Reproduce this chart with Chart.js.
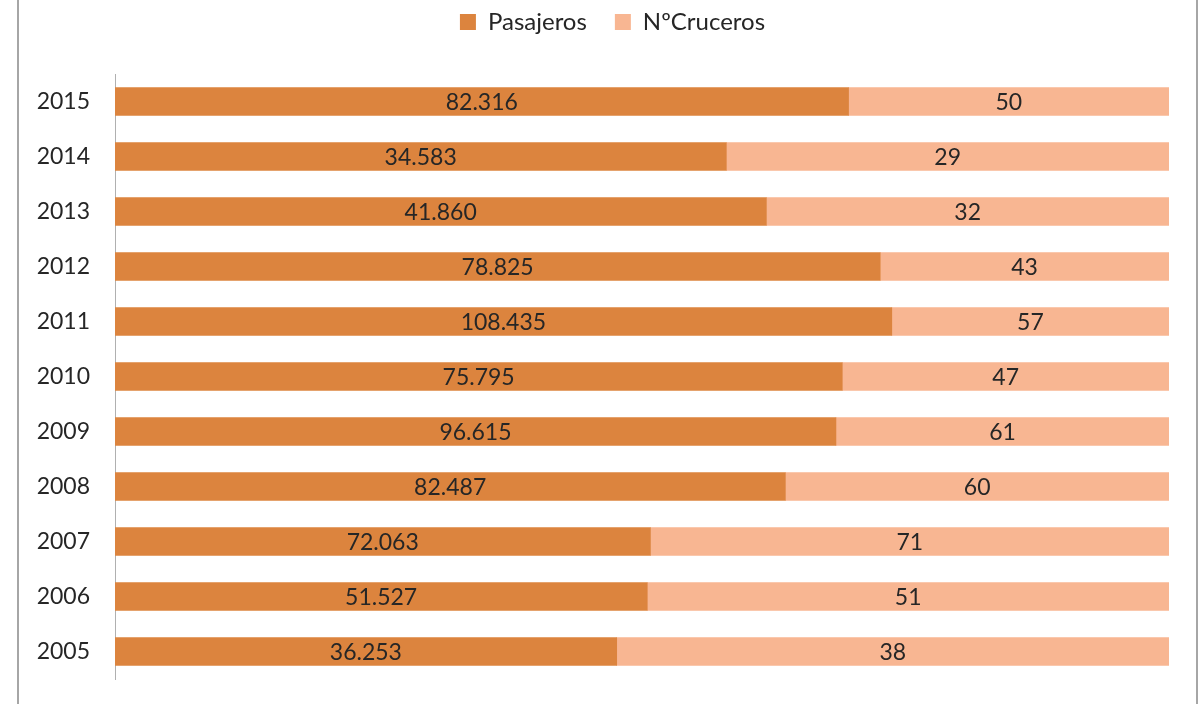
<!DOCTYPE html>
<html>
<head>
<meta charset="utf-8">
<script src="https://cdn.jsdelivr.net/npm/chart.js@4"></script>
<style>
  body { margin: 0; background: #fff; }
  #wrap { width: 1201px; height: 704px; position: relative; }
</style>
</head>
<body>
<div id="wrap"><canvas id="crucerosChart"></canvas></div>
<script>
// years, top to bottom as in the picture
const years = ['2015', '2014', '2013', '2012', '2011', '2010', '2009', '2008', '2007', '2006', '2005'];
// values printed on the bars
const pasajeros = [82316, 34583, 41860, 78825, 108435, 75795, 96615, 82487, 72063, 51527, 36253];
const cruceros = [50, 29, 32, 43, 57, 47, 61, 60, 71, 51, 38];
// share of each bar (100% stacked)
const pasajerosPct = [69.6, 58.0, 61.8, 72.6, 73.7, 69.0, 68.4, 63.6, 50.8, 50.5, 47.6];
const crucerosPct = [30.4, 42.0, 38.2, 27.4, 26.3, 31.0, 31.6, 36.4, 49.2, 49.5, 52.4];

const textColor = '#262626';
const fontFamily = 'Lato, "Liberation Sans", sans-serif';

const fmt = n => String(n).replace(/\B(?=(\d{3})+(?!\d))/g, '.');

// labels in the middle of each segment
const barLabels = {
  id: 'barLabels',
  afterDatasetsDraw(chart) {
    const ctx = chart.ctx;
    ctx.save();
    ctx.font = '23px ' + fontFamily;
    ctx.fillStyle = textColor;
    ctx.textAlign = 'center';
    ctx.textBaseline = 'middle';
    chart.data.datasets.forEach((ds, i) => {
      const meta = chart.getDatasetMeta(i);
      meta.data.forEach((bar, j) => {
        ctx.fillText(fmt(ds.raw[j]), (bar.base + bar.x) / 2, bar.y + 1);
      });
    });
    ctx.restore();
  }
};

// grey frame lines left and right, room under the legend, legend nudged right
const frame = {
  id: 'frame',
  beforeInit(chart) {
    const fit = chart.legend.fit;
    chart.legend.fit = function () {
      fit.bind(chart.legend)();
      this.height = 92;
    };
  },
  afterLayout(chart) {
    chart.legend.left += 28;
    chart.legend.right += 28;
  },
  afterDraw(chart) {
    const ctx = chart.ctx;
    ctx.save();
    ctx.strokeStyle = '#a6a6a6';
    ctx.lineWidth = 2;
    ctx.beginPath();
    ctx.moveTo(18, 0); ctx.lineTo(18, 704);
    ctx.moveTo(1197, 0); ctx.lineTo(1197, 704);
    ctx.stroke();
    ctx.restore();
  }
};

new Chart(document.getElementById('crucerosChart'), {
  type: 'bar',
  data: {
    labels: years,
    datasets: [
      { label: 'Pasajeros', data: pasajerosPct, raw: pasajeros, backgroundColor: '#dc843e', barThickness: 28 },
      { label: 'NºCruceros', data: crucerosPct, raw: cruceros, backgroundColor: '#f8b692', barThickness: 28 }
    ]
  },
  options: {
    indexAxis: 'y',
    responsive: true,
    maintainAspectRatio: false,
    animation: false,
    layout: { padding: { left: 0, right: 32, top: -18, bottom: 25 } },
    plugins: {
      legend: {
        position: 'top',
        labels: {
          boxWidth: 16, boxHeight: 16, padding: 28,
          color: textColor,
          font: { family: fontFamily, size: 24 }
        }
      },
      tooltip: { enabled: false }
    },
    scales: {
      x: { stacked: true, min: 0, max: 100, display: false },
      y: {
        stacked: true,
        afterFit: s => { s.width = 115; s.paddingTop = 0; s.paddingBottom = 0; },
        grid: { display: false, drawTicks: false },
        border: { display: true, color: '#b0b0b0', width: 1 },
        ticks: { color: textColor, padding: 25, font: { family: fontFamily, size: 23 } }
      }
    }
  },
  plugins: [barLabels, frame]
});
</script>
</body>
</html>
